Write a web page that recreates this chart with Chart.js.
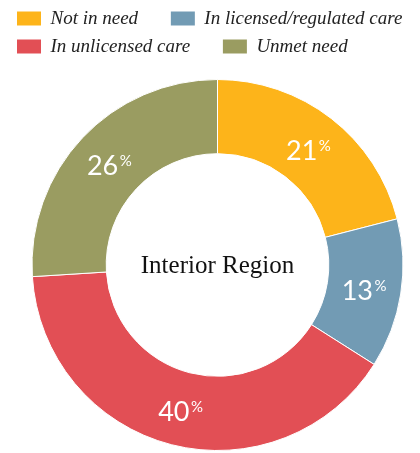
<!DOCTYPE html>
<html><head><meta charset="utf-8">
<script src="https://cdn.jsdelivr.net/npm/chart.js@4"></script>
<style>html,body{margin:0;padding:0;background:#fff}#wrap{width:420px;height:453px;position:relative}</style>
</head><body><div id="wrap"><canvas id="c"></canvas></div>
<script>
const categories = ['Not in need', 'In licensed/regulated care', 'In unlicensed care', 'Unmet need'];
const values = [21, 13, 40, 26];
const colors = ['#FDB41A', '#729BB4', '#E24F55', '#9A9C61'];
const centerLabel = 'Interior Region';

const legendMargin = {
  id: 'legendMargin',
  beforeInit(chart) {
    const orig = chart.legend.fit;
    chart.legend.fit = function () {
      this.maxWidth += 20;
      orig.call(this);
      this.height += 13;
    };
  },
  afterLayout(chart) {
    chart.legend.left = 8;
    chart.legend.right = 425;
  }
};

const sliceLabels = {
  id: 'sliceLabels',
  afterDatasetsDraw(chart) {
    const ctx = chart.ctx;
    const meta = chart.getDatasetMeta(0);
    ctx.save();
    ctx.fillStyle = '#ffffff';
    meta.data.forEach((arc, i) => {
      const p = arc.tooltipPosition();
      const num = String(chart.data.datasets[0].data[i]);
      ctx.font = '27px Lato';
      const wn = ctx.measureText(num).width;
      ctx.font = '15px Lato';
      const wp = ctx.measureText('%').width + 1.5;
      const x0 = p.x - (wn + wp) / 2;
      const yb = p.y + 12;
      ctx.textAlign = 'left';
      ctx.textBaseline = 'alphabetic';
      ctx.font = '27px Lato';
      ctx.fillText(num, x0, yb);
      ctx.font = '15px Lato';
      ctx.fillText('%', x0 + wn + 1.5, yb - 9);
    });
    const a = meta.data[0];
    ctx.fillStyle = '#111111';
    ctx.font = '25px "Liberation Serif"';
    ctx.textAlign = 'center';
    ctx.fillText(centerLabel, a.x, a.y + 7.5);
    ctx.restore();
  }
};

new Chart(document.getElementById('c'), {
  type: 'doughnut',
  data: {
    labels: categories,
    datasets: [{
      data: values,
      backgroundColor: colors,
      borderColor: '#ffffff',
      borderWidth: 1,
      hoverOffset: 0
    }]
  },
  options: {
    responsive: true,
    maintainAspectRatio: false,
    animation: false,
    cutout: '60%',
    layout: { padding: { top: 0, left: 15, right: 0, bottom: 2 } },
    plugins: {
      tooltip: { enabled: false },
      legend: {
        position: 'top',
        align: 'start',
        labels: {
          boxWidth: 24,
          boxHeight: 14,
          padding: 9,
          color: '#222222',
          font: { family: '"Liberation Serif"', size: 19, style: 'italic' },
          generateLabels(chart) {
            const items = Chart.overrides.doughnut.plugins.legend.labels.generateLabels(chart);
            items.forEach((it, i) => {
              it.lineWidth = 0;
              if (i === 0 || i === 2) it.text = it.text + '     ';
            });
            return items;
          }
        }
      }
    }
  },
  plugins: [legendMargin, sliceLabels]
});
</script>
</body></html>
